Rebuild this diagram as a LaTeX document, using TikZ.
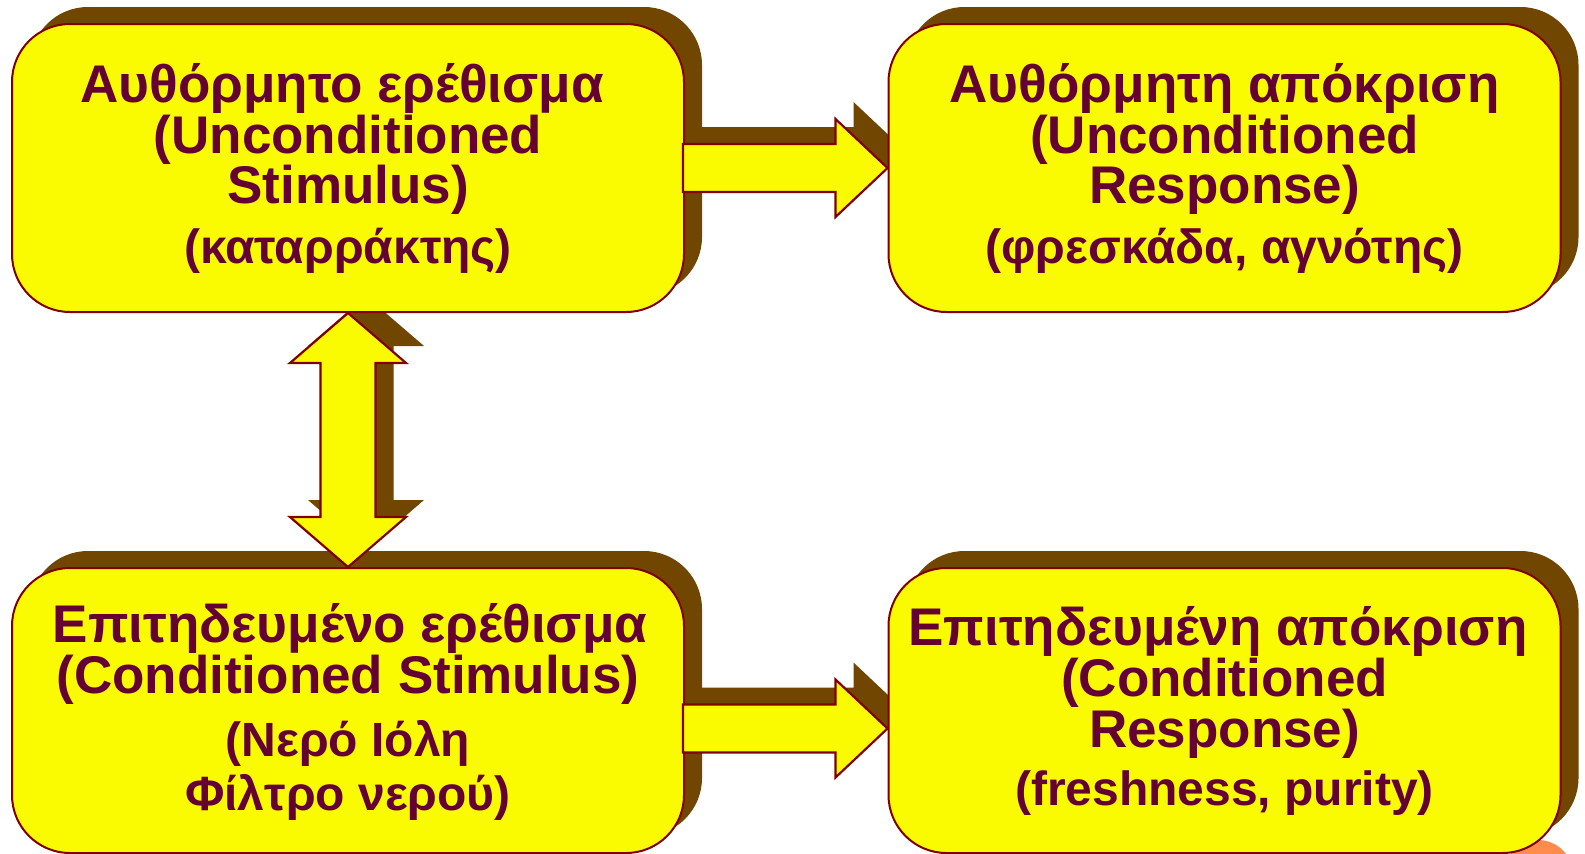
\documentclass[tikz,border=0pt]{standalone}
\usepackage{fontspec}
\setmainfont{Liberation Sans}
\usetikzlibrary{calc,shadows,backgrounds}

\definecolor{boxfill}{RGB}{250,250,0}
\definecolor{edge}{RGB}{128,0,0}
\definecolor{shade}{RGB}{112,70,0}
\definecolor{ink}{RGB}{100,0,50}
\definecolor{blob}{RGB}{255,140,76}

% arrow geometry (shaft half width, head half width, head length)
\newcommand{\shafthalf}{24pt}
\newcommand{\headhalf}{49pt}
\newcommand{\headlen}{52pt}

% outline of a one-headed block arrow: style, start, tip, name of head base
\newcommand{\onewaypath}[4]{%
  \coordinate (#4) at ($(#3)!\headlen!(#2)$);
  \path[#1] ($(#2)!\shafthalf!90:(#3)$) -- ($(#4)!\shafthalf!-90:(#2)$)
    -- ($(#4)!\headhalf!-90:(#2)$) -- (#3) -- ($(#4)!\headhalf!90:(#2)$)
    -- ($(#4)!\shafthalf!90:(#2)$) -- ($(#2)!\shafthalf!-90:(#3)$) -- cycle;}

% outline of a two-headed block arrow: style, tip A, tip B, head base names
\newcommand{\twowaypath}[5]{%
  \coordinate (#4) at ($(#2)!\headlen!(#3)$);
  \coordinate (#5) at ($(#3)!\headlen!(#2)$);
  \path[#1] (#2) -- ($(#4)!\headhalf!90:(#3)$) -- ($(#4)!\shafthalf!90:(#3)$)
    -- ($(#5)!\shafthalf!-90:(#2)$) -- ($(#5)!\headhalf!-90:(#2)$) -- (#3)
    -- ($(#5)!\headhalf!90:(#2)$) -- ($(#5)!\shafthalf!90:(#2)$)
    -- ($(#4)!\shafthalf!-90:(#3)$) -- ($(#4)!\headhalf!-90:(#3)$) -- cycle;}

% block arrows, each with its shadow kept behind the boxes
\newcommand{\onewayarrow}[3]{%
  \coordinate (#1s) at (#2); \coordinate (#1t) at (#3);
  \coordinate (#1ss) at ($(#1s)+(18,-17)$); \coordinate (#1st) at ($(#1t)+(18,-17)$);
  \begin{scope}[on background layer]
    \onewaypath{arrowshadow}{#1ss}{#1st}{#1sh}
  \end{scope}
  \onewaypath{arrowbody}{#1s}{#1t}{#1h}}

\newcommand{\twowayarrow}[3]{%
  \coordinate (#1a) at (#2); \coordinate (#1b) at (#3);
  \coordinate (#1sa) at ($(#1a)+(18,-17)$); \coordinate (#1sb) at ($(#1b)+(18,-17)$);
  \begin{scope}[on background layer]
    \twowaypath{arrowshadow}{#1sa}{#1sb}{#1sha}{#1shb}
  \end{scope}
  \twowaypath{arrowbody}{#1a}{#1b}{#1ha}{#1hb}}

\begin{document}
\begin{tikzpicture}[x=1pt,y=-1pt,
  card/.style={draw=edge, line width=2pt, fill=boxfill, rounded corners=58pt,
    inner sep=0pt, minimum width=672pt,
    drop shadow={opacity=1, fill=shade, shadow xshift=18pt, shadow yshift=17pt}},
  arrowbody/.style={draw=edge, line width=2.2pt, fill=boxfill, line join=miter},
  arrowshadow/.style={fill=shade},
  head/.style={anchor=base, inner sep=0pt, text=ink,
    font=\fontsize{53pt}{53pt}\selectfont\bfseries},
  note/.style={anchor=base, inner sep=0pt, text=ink,
    font=\fontsize{48pt}{48pt}\selectfont\bfseries}]

\useasboundingbox (0,0) rectangle (1585,854);

% white sheet and the round patch peeking out at the lower right corner
\begin{scope}[on background layer]
  \fill[white] (0,0) rectangle (1585,854);
  \fill[blob] (1538,875) circle (35);
\end{scope}

% the four boxes
\node[card, minimum height=288pt] (us) at (348,168) {};
\node[card, minimum height=288pt] (ur) at (1224.5,168) {};
\node[card, minimum height=285pt] (cs) at (348,710.5) {};
\node[card, minimum height=285pt] (cr) at (1224.5,710.5) {};

% connectors
\onewayarrow{top}{$(us.east)+(-2,0)$}{ur.west}
\onewayarrow{bot}{$(cs.east)+(-2,18)$}{$(cr.west)+(0,18)$}
\renewcommand{\shafthalf}{27.5pt}
\renewcommand{\headhalf}{58pt}
\renewcommand{\headlen}{50pt}
\twowayarrow{mid}{us.south}{cs.north}

% texts
\node[head] (us1) at (342,102) {Αυθόρμητο ερέθισμα};
\node[head] (us2) at (348,153) {(Unconditioned};
\node[head] (us3) at (348,203) {Stimulus)};
\node[note] (us4) at (348,263) {(καταρράκτης)};

\node[head] (ur1) at (1224.5,102) {Αυθόρμητη απόκριση};
\node[head] (ur2) at (1224.5,153) {(Unconditioned};
\node[head] (ur3) at (1224.5,203) {Response)};
\node[note] (ur4) at (1224.5,263) {(φρεσκάδα, αγνότης)};

\node[head] (cs1) at (350,642) {Επιτηδευμένο ερέθισμα};
\node[head] (cs2) at (348,693) {(Conditioned Stimulus)};
\node[note] (cs3) at (348,756) {(Νερό Ιόλη};
\node[note] (cs4) at (348,810) {Φίλτρο νερού)};

\node[head] (cr1) at (1218,645) {Επιτηδευμένη απόκριση};
\node[head] (cr2) at (1224.5,696) {(Conditioned};
\node[head] (cr3) at (1224.5,747) {Response)};
\node[note] (cr4) at (1224.5,805) {(freshness, purity)};
\end{tikzpicture}
\end{document}
